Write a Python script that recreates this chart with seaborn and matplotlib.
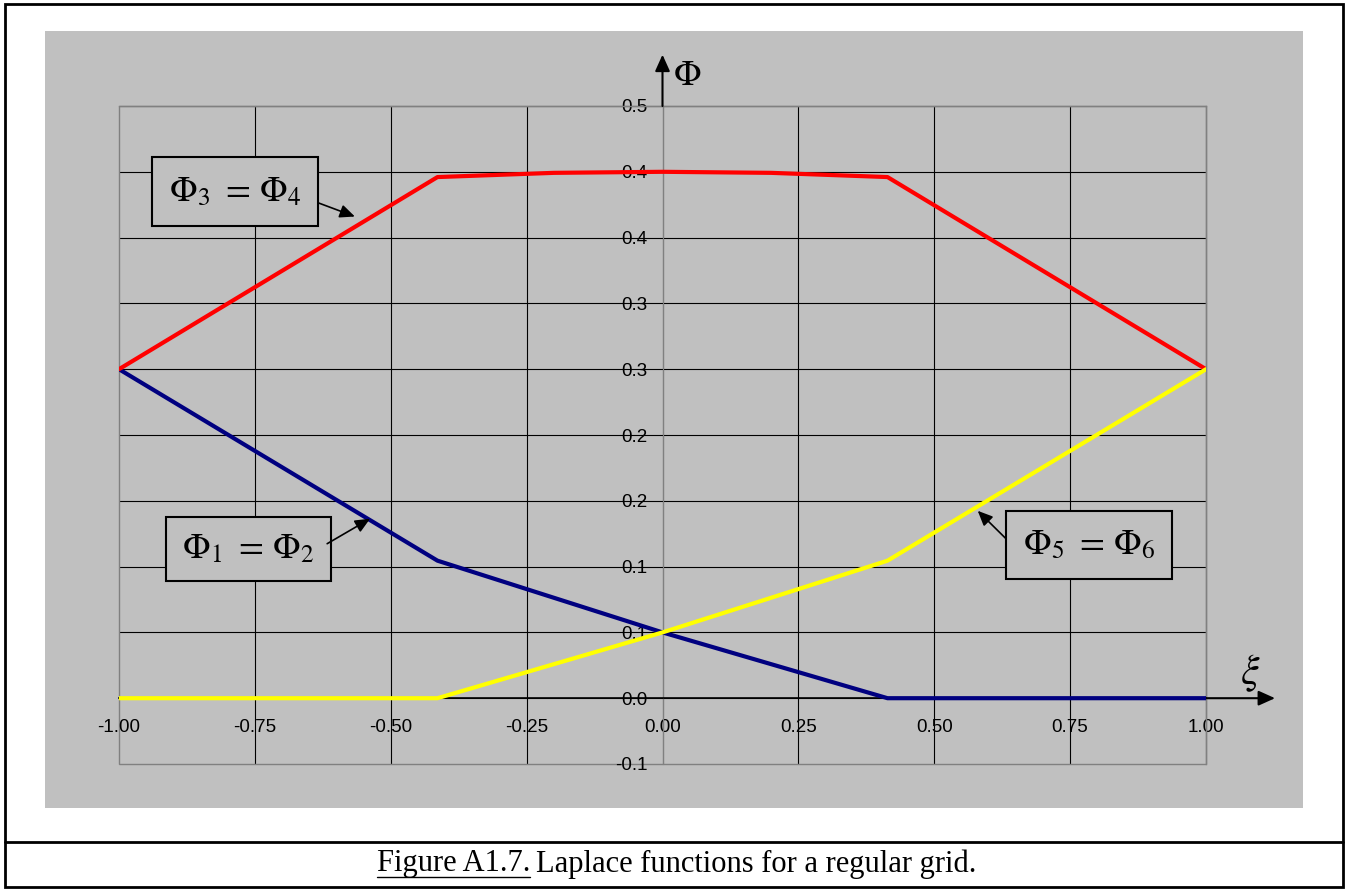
"""
Laplace functions for a regular grid (Figure A1.7)
"""

import matplotlib

matplotlib.use("Agg")
import matplotlib.pyplot as plt
import numpy as np
import pandas as pd
import seaborn as sns
from matplotlib.lines import Line2D
from matplotlib.patches import Rectangle

# ---- data ----
xi = [-1.0, -0.414, 0.0, 0.414, 1.0]
phi_1_2 = [0.25, 0.1045, 0.05, 0.0, 0.0]
phi_5_6 = [0.0, 0.0, 0.05, 0.1045, 0.25]
xi_red = [-1.0, -0.414, -0.2, 0.0, 0.2, 0.414, 1.0]
phi_3_4 = [0.25, 0.396, 0.3992, 0.4, 0.3992, 0.396, 0.25]

x_ticks = [-1.0, -0.75, -0.5, -0.25, 0.0, 0.25, 0.5, 0.75, 1.0]
y_ticks = [-0.05, 0.0, 0.05, 0.1, 0.15, 0.2, 0.25, 0.3, 0.35, 0.4, 0.45]
y_tick_labels = ["-0.1", "0.0", "0.1", "0.1", "0.2", "0.2", "0.3", "0.3", "0.4", "0.4", "0.5"]

sns.set_style("white")
plt.rcParams["font.family"] = ["Liberation Sans", "DejaVu Sans"]
plt.rcParams["mathtext.fontset"] = "stix"
plt.rcParams["text.color"] = "black"
plt.rcParams["xtick.color"] = "black"
plt.rcParams["ytick.color"] = "black"

GRAY = "#C0C0C0"
W, H = 1349, 890

fig = plt.figure(figsize=(W / 100, H / 100), dpi=100, facecolor="white")

# gray chart area and outer frame
fig.patches.append(Rectangle((45 / W, 1 - 808 / H), 1258 / W, 777 / H,
                             transform=fig.transFigure, facecolor=GRAY, edgecolor="none", zorder=-10))
fig.patches.append(Rectangle((5 / W, 1 - 887 / H), 1338 / W, 883 / H,
                             transform=fig.transFigure, fill=False, edgecolor="black", lw=2, zorder=5))
fig.lines.append(Line2D([5 / W, 1343 / W], [1 - 842 / H, 1 - 842 / H],
                        transform=fig.transFigure, color="black", lw=2))

ax = fig.add_axes([119 / W, 1 - 764 / H, 1087 / W, 658 / H])
ax.set_facecolor(GRAY)

df = pd.concat([
    pd.DataFrame({"xi": xi, "phi": phi_1_2, "f": "12"}),
    pd.DataFrame({"xi": xi_red, "phi": phi_3_4, "f": "34"}),
    pd.DataFrame({"xi": xi, "phi": phi_5_6, "f": "56"}),
])
sns.lineplot(data=df, x="xi", y="phi", hue="f", sort=False, estimator=None,
             palette={"12": "#000080", "34": "#FF0000", "56": "#FFFF00"},
             lw=3, legend=False, ax=ax, zorder=4)

ax.set_xlim(-1, 1)
ax.set_ylim(-0.05, 0.45)
ax.set_xticks(x_ticks)
ax.set_xticklabels([f"{v:.2f}" for v in x_ticks])
ax.set_yticks(y_ticks)
ax.set_yticklabels(y_tick_labels)
ax.set_xlabel("")
ax.set_ylabel("")
ax.grid(False)
ax.set_axisbelow(True)

# interior gridlines in black, gray frame on the edges
for v in x_ticks[1:-1]:
    ax.axvline(v, color="black", lw=0.8, zorder=0.2)
for v in y_ticks[1:-1]:
    ax.axhline(v, color="black", lw=0.8, zorder=0.2)
ax.add_patch(Rectangle((0, 0), 1, 1, transform=ax.transAxes, fill=False,
                       edgecolor="#808080", lw=1, zorder=0.3, clip_on=False))

# axes through the origin
ax.spines["left"].set_position(("data", 0))
ax.spines["bottom"].set_position(("data", 0))
ax.spines["left"].set_color("#808080")
ax.spines["bottom"].set_color("black")
ax.spines["bottom"].set_linewidth(1.2)
for s in ["top", "right"]:
    ax.spines[s].set_color("#808080")
    ax.spines[s].set_linewidth(1)
ax.tick_params(axis="x", direction="out", length=4, width=1, color="black",
               pad=11, labelsize=13.5)
ax.tick_params(axis="y", direction="out", length=4, width=1, color="black",
               pad=7, labelsize=13.5)

arrow = dict(arrowstyle="-|>,head_length=1.0,head_width=0.45", color="black", lw=1.5,
             shrinkA=0, shrinkB=0)
ax.annotate("", xy=(1.127, 0), xytext=(1.0, 0), arrowprops=arrow, annotation_clip=False)
ax.annotate("", xy=(0, 0.489), xytext=(0, 0.45), arrowprops=arrow, annotation_clip=False)
ax.text(1.081, 0.019, r"$\xi$", fontsize=30, ha="center", va="center")
ax.text(0.046, 0.4735, r"$\Phi$", fontsize=26, ha="center", va="center")

# labelled boxes with arrows
boxes = [
    ((-0.939, 0.359), 0.305, 0.0523, r"$\Phi_{3}\,\,=\,\Phi_{4}$", (-0.634, 0.3765), (-0.566, 0.366)),
    ((-0.9135, 0.0894), 0.3035, 0.0485, r"$\Phi_{1}\,\,=\,\Phi_{2}$", (-0.617, 0.1174), (-0.538, 0.1364)),
    ((0.632, 0.0909), 0.3054, 0.0515, r"$\Phi_{5}\,\,=\,\Phi_{6}$", (0.632, 0.1212), (0.580, 0.1424)),
]
small_arrow = dict(arrowstyle="-|>,head_length=0.9,head_width=0.4", color="black", lw=1.2,
                   shrinkA=0, shrinkB=0)
for (x0, y0), bw, bh, label, tail, tip in boxes:
    ax.add_patch(Rectangle((x0, y0), bw, bh, facecolor=GRAY, edgecolor="black", lw=1.5, zorder=6))
    ax.text(x0 + bw / 2, y0 + bh / 2, label, fontsize=26, ha="center", va="center", zorder=7)
    ax.annotate("", xy=tip, xytext=tail, arrowprops=small_arrow, zorder=7)

# caption with underlined figure number
cap_y = 1 - 864 / H
t1 = fig.text(530 / W, cap_y, "Figure A1.7.", ha="right", va="center",
              family="Liberation Serif", fontsize=22)
fig.text(536 / W, cap_y, "Laplace functions for a regular grid.", ha="left", va="center",
         family="Liberation Serif", fontsize=22)
fig.canvas.draw()
bb = t1.get_window_extent().transformed(fig.transFigure.inverted())
fig.lines.append(Line2D([bb.x0, bb.x1], [bb.y0 + 0.002, bb.y0 + 0.002],
                        transform=fig.transFigure, color="black", lw=1))

fig.savefig("out.png", dpi=100, facecolor="white")
